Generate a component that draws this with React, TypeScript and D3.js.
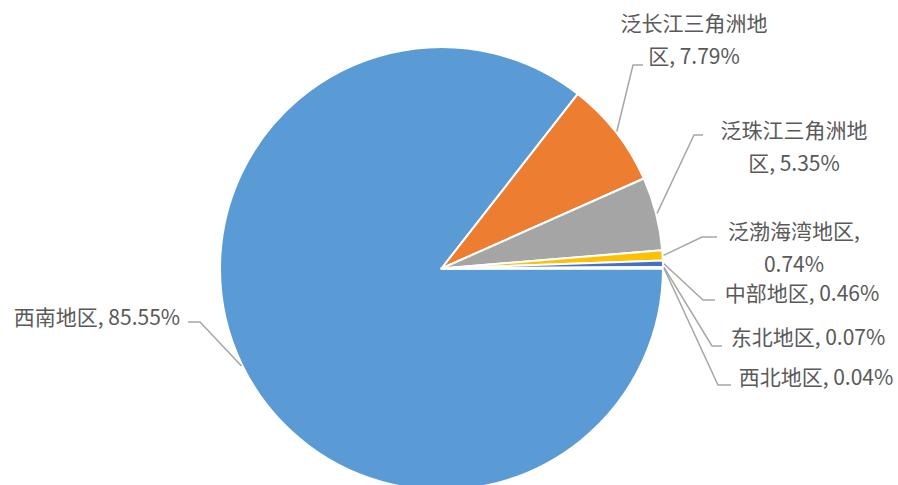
import React from "react";
import * as d3 from "d3";

// regions and their share of the total, in the order Excel draws them
const regions = [
  "西南地区",
  "泛长江三角洲地区",
  "泛珠江三角洲地区",
  "泛渤海湾地区",
  "中部地区",
  "东北地区",
  "西北地区",
];
const shares = [85.55, 7.79, 5.35, 0.74, 0.46, 0.07, 0.04];
const colors = ["#5B9BD5", "#ED7D31", "#A5A5A5", "#FFC000", "#4472C4", "#70AD47", "#264478"];

// label text lines (Excel wraps some of them)
const labelLines = [
  ["西南地区, 85.55%"],
  ["泛长江三角洲地", "区, 7.79%"],
  ["泛珠江三角洲地", "区, 5.35%"],
  ["泛渤海湾地区,", "0.74%"],
  ["中部地区, 0.46%"],
  ["东北地区, 0.07%"],
  ["西北地区, 0.04%"],
];

// label layout: text centre x, first baseline y, elbow point, end of horizontal stub
const labelLayout = [
  { x: 97, y: 325, ex: 200, ey: 322, hx: 188 },
  { x: 694, y: 31, ex: 633, ey: 65, hx: 643 },
  { x: 794, y: 138, ex: 694, ey: 135, hx: 703 },
  { x: 794, y: 239, ex: 702, ey: 237, hx: 717 },
  { x: 802, y: 301, ex: 703, ey: 300, hx: 715 },
  { x: 808, y: 345, ex: 712, ey: 346, hx: 722 },
  { x: 816, y: 385, ex: 718, ey: 385, hx: 731 },
];
const lineGap = 33;

const W = 898;
const H = 485;
const cx = 441.5;
const cy = 268.5;
const R = 221.5;

type Datum = { name: string; value: number; i: number };

export default function App() {
  const data: Datum[] = regions.map((name, i) => ({ name, value: shares[i], i }));
  const pie = d3
    .pie<Datum>()
    .value((d) => d.value)
    .sort(null)
    .startAngle(Math.PI / 2)
    .endAngle(Math.PI / 2 + 2 * Math.PI);
  const arcs = pie(data);
  const arc = d3.arc<d3.PieArcDatum<Datum>>().innerRadius(0).outerRadius(R);

  const font = "'Noto Sans CJK SC', 'Noto Sans', sans-serif";

  return (
    <svg
      width={W}
      height={H}
      style={{ position: "fixed", left: 0, top: 0, background: "#fff" }}
    >
      <g transform={`translate(${cx},${cy})`}>
        {arcs.map((a) => (
          <path
            key={a.data.name}
            d={arc(a) || ""}
            fill={colors[a.data.i]}
            stroke="#fff"
            strokeWidth={2}
            strokeLinejoin="round"
          />
        ))}
      </g>
      {arcs.map((a) => {
        const i = a.data.i;
        const L = labelLayout[i];
        const ang = (a.startAngle + a.endAngle) / 2;
        const sx = cx + Math.sin(ang) * (R + 1);
        const sy = cy - Math.cos(ang) * (R + 1);
        return (
          <polyline
            key={"l" + i}
            points={`${sx},${sy} ${L.ex},${L.ey} ${L.hx},${L.ey}`}
            fill="none"
            stroke="#A6A6A6"
            strokeWidth={1.5}
          />
        );
      })}
      {labelLines.map((lines, i) => {
        const L = labelLayout[i];
        return (
          <text
            key={"t" + i}
            x={L.x}
            y={L.y}
            textAnchor="middle"
            fontFamily={font}
            fontSize={21}
            fill="#595959"
          >
            {lines.map((s, j) => (
              <tspan key={j} x={L.x} dy={j === 0 ? 0 : lineGap}>
                {s}
              </tspan>
            ))}
          </text>
        );
      })}
    </svg>
  );
}
